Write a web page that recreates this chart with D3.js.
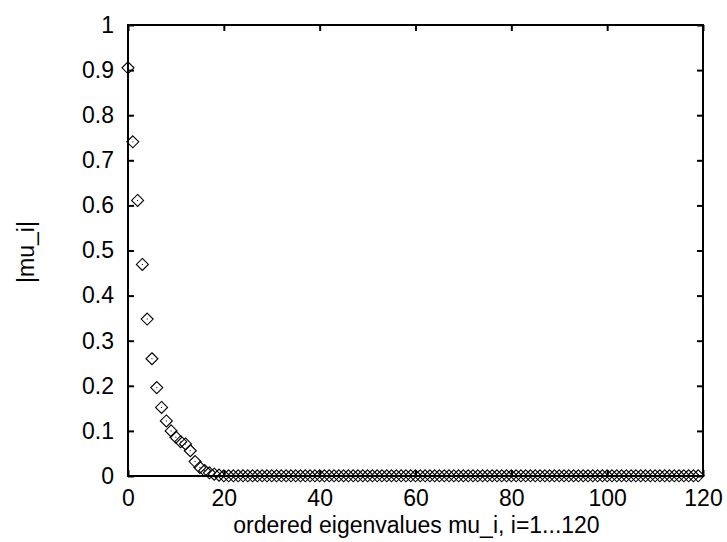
<!DOCTYPE html>
<html>
<head>
<meta charset="utf-8">
<script src="https://cdn.jsdelivr.net/npm/d3@7"></script>
<style>
  body { margin: 0; background: #fff; }
  text { font-family: "Liberation Sans", Arial, sans-serif; fill: #000; }
</style>
</head>
<body>
<div id="chart"></div>
<script>
var width = 727,
    height = 542;

// |mu_i|, index 0..19; the rest sit on zero
var headValues = [0.905, 0.741, 0.611, 0.469, 0.348, 0.26, 0.196, 0.152, 0.122, 0.1,
                  0.086, 0.076, 0.071, 0.056, 0.032, 0.019, 0.012, 0.007, 0.004, 0.002];
var tailValues = [];
for (var k = headValues.length; k < 120; k++) tailValues.push(0.0005);
var values = headValues.concat(tailValues);

var xTicks = [0, 20, 40, 60, 80, 100, 120];
var yTicks = [0, 0.1, 0.2, 0.3, 0.4, 0.5, 0.6, 0.7, 0.8, 0.9, 1];

var fontSize = "23px";
var margin = {left: 128, right: 24, top: 25, bottom: 66};

var x = d3.scaleLinear().domain([0, 120]).range([margin.left, width - margin.right]);
var y = d3.scaleLinear().domain([0, 1]).range([height - margin.bottom, margin.top]);

var svg = d3.select("#chart").append("svg")
    .attr("width", width)
    .attr("height", height);

// frame with inward ticks on all four sides (gnuplot style)
svg.append("g")
    .attr("transform", "translate(0," + y(0) + ")")
    .call(d3.axisBottom(x).tickValues(xTicks).tickSize(-6).tickPadding(14).tickFormat(d3.format("d")))
    .call(function(g) { g.select(".domain").remove(); });

svg.append("g")
    .attr("transform", "translate(0," + y(1) + ")")
    .call(d3.axisTop(x).tickValues(xTicks).tickSize(-6).tickFormat(""))
    .call(function(g) { g.select(".domain").remove(); });

svg.append("g")
    .attr("transform", "translate(" + x(0) + ",0)")
    .call(d3.axisLeft(y).tickValues(yTicks).tickSize(-6).tickPadding(14).tickFormat(function(d) { return d3.format("~g")(d); }))
    .call(function(g) { g.select(".domain").remove(); });

svg.append("g")
    .attr("transform", "translate(" + x(120) + ",0)")
    .call(d3.axisRight(y).tickValues(yTicks).tickSize(-6).tickFormat(""))
    .call(function(g) { g.select(".domain").remove(); });

svg.selectAll(".tick line").attr("stroke", "#000").attr("stroke-width", 2);
svg.selectAll("g").attr("font-size", null).attr("font-family", null);
svg.selectAll(".tick text").style("font-size", fontSize);

svg.append("rect")
    .attr("x", x(0))
    .attr("y", y(1))
    .attr("width", x(120) - x(0))
    .attr("height", y(0) - y(1))
    .attr("fill", "none")
    .attr("stroke", "#000")
    .attr("stroke-width", 2);

// diamond markers with centre dot
var r = 6;
var pts = svg.append("g").selectAll("g")
    .data(values).enter()
    .append("g")
    .attr("transform", function(d, i) { return "translate(" + x(i) + "," + y(d) + ")"; });

pts.append("path")
    .attr("d", "M0," + (-r) + "L" + r + ",0L0," + r + "L" + (-r) + ",0Z")
    .attr("fill", "none")
    .attr("stroke", "#000")
    .attr("stroke-width", 1.1);

pts.append("rect")
    .attr("x", -0.5).attr("y", -0.5)
    .attr("width", 1).attr("height", 1)
    .attr("fill", "#000");

// axis titles
svg.append("text")
    .attr("x", (x(0) + x(120)) / 2 + 1)
    .attr("y", 533)
    .attr("text-anchor", "middle")
    .style("font-size", fontSize)
    .text("ordered eigenvalues mu_i, i=1...120");

svg.append("text")
    .attr("transform", "translate(34,252) rotate(-90)")
    .attr("text-anchor", "middle")
    .style("font-size", fontSize)
    .text("|mu_i|");
</script>
</body>
</html>
